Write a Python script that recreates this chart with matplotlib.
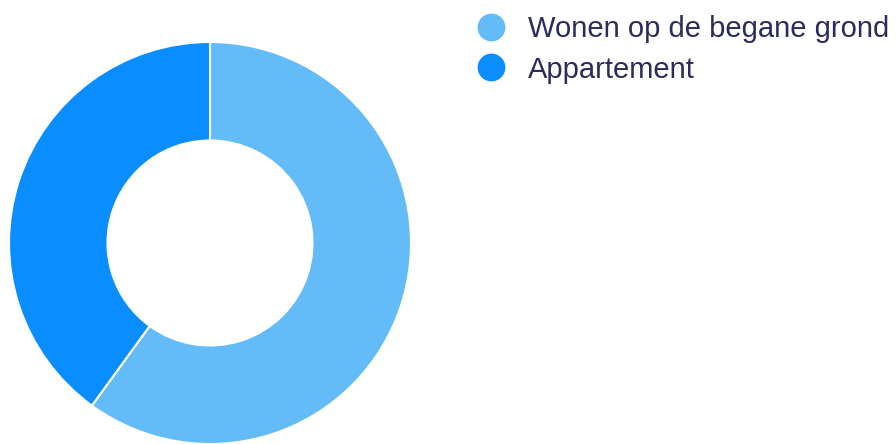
import matplotlib
matplotlib.use("Agg")
import matplotlib.pyplot as plt
from matplotlib.lines import Line2D

plt.rcParams["font.family"] = ["Liberation Sans", "DejaVu Sans"]

LABELS = ["Wonen op de begane grond", "Appartement"]
VALUES = [60, 40]
COLORS = ["#63BBF7", "#0A8EFF"]
TEXT_COLOR = "#2B2B5E"

W, H = 896, 444
fig = plt.figure(figsize=(W / 100, H / 100), dpi=100)

# donut: centre (210, 243) px, outer radius 201 px
cx, cy, r = 210, 243, 201
ax = fig.add_axes([(cx - r) / W, (H - cy - r) / H, 2 * r / W, 2 * r / H])
ax.pie(VALUES, colors=COLORS, startangle=90, counterclock=False, radius=1,
       wedgeprops=dict(width=0.49, edgecolor="white", linewidth=1.5))
ax.set_xlim(-1, 1)
ax.set_ylim(-1, 1)
ax.set_aspect("equal")
ax.axis("off")

handles = [Line2D([], [], marker="o", linestyle="none", markersize=19,
                  markerfacecolor=c, markeredgecolor=c) for c in COLORS]
leg = fig.legend(handles, LABELS, loc="upper left",
                 bbox_to_anchor=(477 / W, 1 - 15 / H), frameon=False,
                 fontsize=21, handlelength=0.95, handletextpad=0.8,
                 labelspacing=0.43, borderpad=0, borderaxespad=0)
for t in leg.get_texts():
    t.set_color(TEXT_COLOR)

fig.savefig("out.png", dpi=100)
